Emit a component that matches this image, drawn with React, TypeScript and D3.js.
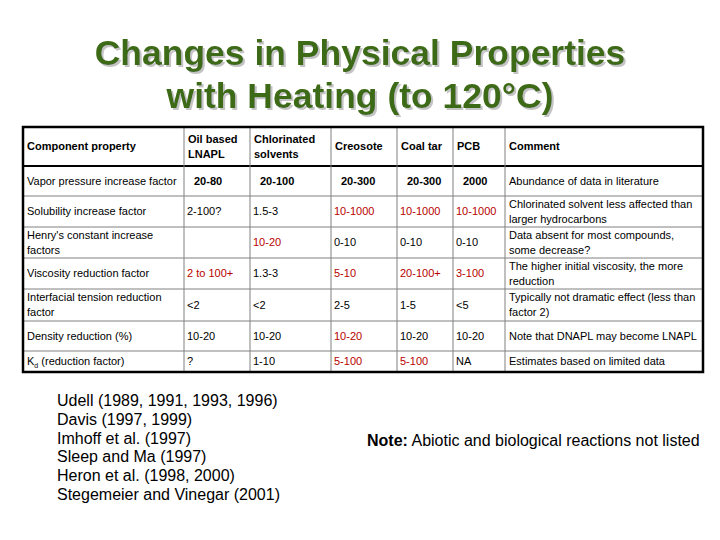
import React from "react";
import * as d3 from "d3";

const titleLines = ["Changes in Physical Properties", "with Heating (to 120°C)"];

const columns = [
  ["Component property"],
  ["Oil based", "LNAPL"],
  ["Chlorinated", "solvents"],
  ["Creosote"],
  ["Coal tar"],
  ["PCB"],
  ["Comment"],
];

const properties = [
  ["Vapor pressure increase factor"],
  ["Solubility increase factor"],
  ["Henry's constant increase", "factors"],
  ["Viscosity reduction factor"],
  ["Interfacial tension reduction", "factor"],
  ["Density reduction (%)"],
  ["K|d (reduction factor)"],
];

const oilValues = ["20-80", "2-100?", "", "2 to 100+", "<2", "10-20", "?"];
const chlorinatedValues = ["20-100", "1.5-3", "10-20", "1.3-3", "<2", "10-20", "1-10"];
const creosoteValues = ["20-300", "10-1000", "0-10", "5-10", "2-5", "10-20", "5-100"];
const coalTarValues = ["20-300", "10-1000", "0-10", "20-100+", "1-5", "10-20", "5-100"];
const pcbValues = ["2000", "10-1000", "0-10", "3-100", "<5", "10-20", "NA"];

// red-highlighted cells: [row, valueColumn] (valueColumn 0 = oil ... 4 = PCB)
const redCells = [
  [1, 2], [1, 3], [1, 4],
  [2, 1],
  [3, 0], [3, 2], [3, 3], [3, 4],
  [5, 2],
  [6, 2], [6, 3],
];

const comments = [
  ["Abundance of data in literature"],
  ["Chlorinated solvent less affected than", "larger hydrocarbons"],
  ["Data absent for most compounds,", "some decrease?"],
  ["The higher initial viscosity, the more", "reduction"],
  ["Typically not dramatic effect (less than", "factor 2)"],
  ["Note that DNAPL may become LNAPL"],
  ["Estimates based on limited data"],
];

const references = [
  "Udell (1989, 1991, 1993, 1996)",
  "Davis (1997, 1999)",
  "Imhoff et al. (1997)",
  "Sleep and Ma (1997)",
  "Heron et al. (1998, 2000)",
  "Stegemeier and Vinegar (2001)",
];

const noteLabel = "Note:";
const noteText = " Abiotic and biological reactions not listed";

const FONT = "'Liberation Sans', Arial, Helvetica, sans-serif";
const RED = "#b80000";

export default function App() {
  const colEdges = [23, 184, 250, 331, 397, 453, 505, 703];
  const rowHeights = [39, 30, 31, 31, 31, 32, 30, 21];
  const tableTop = 127;
  const rowEdges: number[] = [tableTop];
  rowHeights.forEach((h) => rowEdges.push(rowEdges[rowEdges.length - 1] + h));
  const tableBottom = rowEdges[rowEdges.length - 1];
  const fs = 11;
  const lh = 15;

  const valueCols = [oilValues, chlorinatedValues, creosoteValues, coalTarValues, pcbValues];
  const isRed = (r: number, c: number) => redCells.some(([a, b]) => a === r && b === c);

  const refY = d3.scaleLinear().domain([0, references.length - 1]).range([406, 500]);

  const renderLines = (lines: string[], x: number, cy: number, opts: any = {}) => {
    const n = lines.length;
    return lines.map((ln, i) => {
      const y = cy + (i - (n - 1) / 2) * lh;
      if (ln.includes("|")) {
        const [main, rest] = ln.split("|");
        const sub = rest.charAt(0);
        const tail = rest.slice(1);
        return (
          <text key={i} x={x} y={y} dy="0.35em" fontSize={fs} fontFamily={FONT} fill={opts.fill || "#000"}>
            {main}
            <tspan fontSize={7} dy={3}>{sub}</tspan>
            <tspan dy={-3}>{tail}</tspan>
          </text>
        );
      }
      return (
        <text
          key={i}
          x={x}
          y={y}
          dy="0.35em"
          fontSize={fs}
          fontFamily={FONT}
          fontWeight={opts.bold ? "bold" : "normal"}
          fill={opts.fill || "#000"}
        >
          {ln}
        </text>
      );
    });
  };

  return (
    <svg width={720} height={540} style={{ position: "absolute", left: 0, top: 0, background: "#fff" }}>
      <defs>
        <filter id="titleShadow" x="-5%" y="-20%" width="110%" height="150%">
          <feOffset in="SourceAlpha" dx={2} dy={2} result="off" />
          <feFlood floodColor="#c4c4c4" result="col" />
          <feComposite in="col" in2="off" operator="in" result="shadow" />
          <feMerge>
            <feMergeNode in="shadow" />
            <feMergeNode in="SourceGraphic" />
          </feMerge>
        </filter>
      </defs>
      <rect width={720} height={540} fill="#fff" />
      {/* title */}
      {titleLines.map((t, i) => (
        <text key={i} x={360} y={65 + i * 43} textAnchor="middle" fontSize={35.5} fontWeight="bold"
          fontFamily={FONT} fill="#3d6b12" filter="url(#titleShadow)">
          {t}
        </text>
      ))}

      {/* table grid */}
      {rowEdges.slice(1, -1).map((y, i) => (
        <line key={"h" + i} x1={colEdges[0]} x2={colEdges[colEdges.length - 1]} y1={y} y2={y}
          stroke={i === 0 ? "#000" : "#808080"} strokeWidth={i === 0 ? 2 : 1} />
      ))}
      {colEdges.slice(1, -1).map((x, i) => (
        <line key={"v" + i} x1={x} x2={x} y1={tableTop} y2={tableBottom} stroke="#808080" strokeWidth={1} />
      ))}
      <rect x={colEdges[0]} y={tableTop} width={colEdges[colEdges.length - 1] - colEdges[0]}
        height={tableBottom - tableTop} fill="none" stroke="#000" strokeWidth={2.5} />

      {/* header */}
      {columns.map((c, i) => (
        <g key={"c" + i}>{renderLines(c, colEdges[i] + 4, (rowEdges[0] + rowEdges[1]) / 2, { bold: true })}</g>
      ))}

      {/* rows */}
      {properties.map((p, r) => {
        const cy = (rowEdges[r + 1] + rowEdges[r + 2]) / 2;
        return (
          <g key={"r" + r}>
            {renderLines(p, colEdges[0] + 4, cy)}
            {valueCols.map((vals, c) =>
              vals[r] ? (
                <g key={c}>
                  {renderLines([vals[r]], colEdges[c + 1] + (r === 0 ? 10 : 3), cy, {
                    bold: r === 0,
                    fill: isRed(r, c) ? RED : "#000",
                  })}
                </g>
              ) : null
            )}
            {renderLines(comments[r], colEdges[6] + 4, cy)}
          </g>
        );
      })}

      {/* references */}
      {references.map((t, i) => (
        <text key={"ref" + i} x={57} y={refY(i)} fontSize={16} fontFamily={FONT} fill="#000">
          {t}
        </text>
      ))}

      {/* note */}
      <text x={367} y={446} fontSize={16} fontFamily={FONT} fill="#000">
        <tspan fontWeight="bold">{noteLabel}</tspan>
        {noteText}
      </text>
    </svg>
  );
}
